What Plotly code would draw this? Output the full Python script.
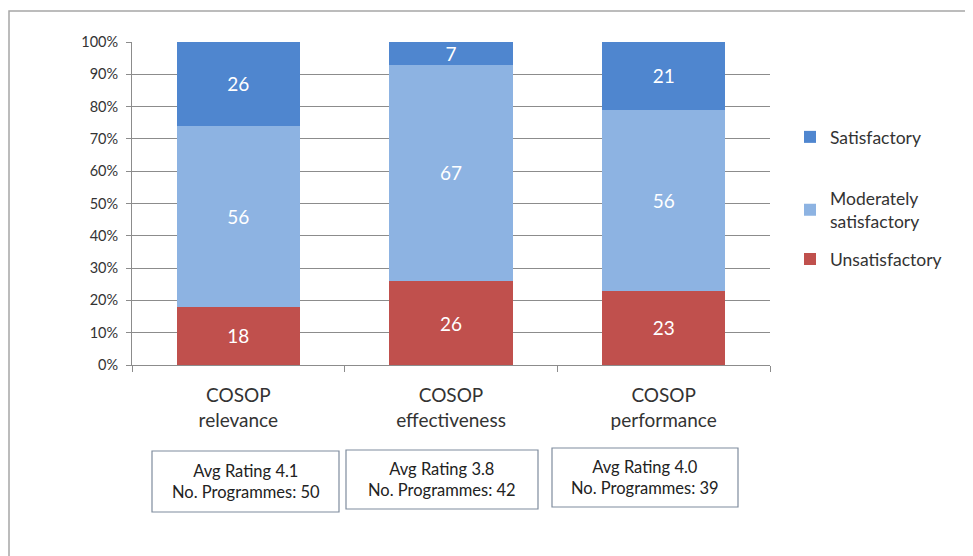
import plotly.graph_objects as go

categories = ["COSOP<br>relevance", "COSOP<br>effectiveness", "COSOP<br>performance"]
unsatisfactory = [18, 26, 23]
moderately = [56, 67, 56]
satisfactory = [26, 7, 21]
box_texts = [
    "Avg Rating 4.1<br>No. Programmes: 50",
    "Avg Rating 3.8<br>No. Programmes: 42",
    "Avg Rating 4.0<br>No. Programmes: 39",
]

FONT = "Lato"
OFF = 8                      # page body margin of the html page
W, H = 973 - OFF, 556 - OFF  # figure size so the page fits the window
L, R, T, B = 132, 770, 42, 365  # plot area in reference (window) pixels


def px(x):
    return (x - L) / (R - L)


def py(y):
    return (B - y) / (B - T)


fig = go.Figure()
series = [
    ("Unsatisfactory", unsatisfactory, "#C0504D", "legend", 2),
    ("Moderately<br>satisfactory", moderately, "#8DB3E2", "legend", 1),
    ("Satisfactory", satisfactory, "#4F86CF", "legend2", 1),
]
for name, vals, col, leg, rank in series:
    fig.add_trace(go.Bar(
        x=categories, y=vals, name=name, marker_color=col,
        marker_line_width=0, legendgroup=name, legend=leg, legendrank=rank,
        text=[str(v) for v in vals], textposition="inside",
        insidetextanchor="middle", textangle=0, constraintext="none",
        textfont=dict(family=FONT, size=19, color="white"),
    ))

legend_font = dict(family=FONT, size=17.5, color="#333333")
fig.update_layout(
    width=W, height=H, barmode="stack", bargap=0.42,
    margin=dict(l=L - OFF, r=W - (R - OFF), t=T - OFF, b=H - (B - OFF),
                autoexpand=False),
    plot_bgcolor="white", paper_bgcolor="white",
    font=dict(family=FONT, color="#333333"),
    legend=dict(
        x=px(790), y=py(229), xanchor="left", yanchor="middle",
        traceorder="grouped", tracegroupgap=12,
        font=legend_font, itemwidth=30,
    ),
    legend2=dict(
        x=px(790), y=py(137), xanchor="left", yanchor="middle",
        font=legend_font, itemwidth=30,
    ),
)
fig.update_yaxes(
    range=[0, 100], dtick=10, ticksuffix="%",
    showgrid=True, gridcolor="#8c8c8c", gridwidth=1,
    showline=True, linecolor="#8c8c8c",
    ticks="outside", ticklen=5, tickcolor="#8c8c8c",
    tickfont=dict(family=FONT, size=14.5, color="#333333"),
    ticklabelstandoff=5,
    zeroline=False, fixedrange=True, automargin=False,
)
fig.update_xaxes(
    showline=True, linecolor="#8c8c8c",
    ticks="outside", ticklen=6, tickcolor="#8c8c8c", tickson="boundaries",
    tickfont=dict(family=FONT, size=19, color="#333333"),
    ticklabelstandoff=13, automargin=False,
)

# outer frame
fig.add_shape(type="rect", xref="paper", yref="paper",
              x0=px(9), x1=px(990), y0=py(11), y1=py(600),
              line=dict(color="#a6a6a6", width=1.5), layer="below")

# rating boxes
boxes = [(152, 339, 451, 512), (346, 538, 450, 509), (552, 738, 448, 507)]
for (x0, x1, y0, y1), txt in zip(boxes, box_texts):
    fig.add_shape(type="rect", xref="paper", yref="paper",
                  x0=px(x0), x1=px(x1), y0=py(y0), y1=py(y1),
                  line=dict(color="#7f8c9d", width=1.2))
    fig.add_annotation(xref="paper", yref="paper",
                       x=px((x0 + x1) / 2), y=py((y0 + y1) / 2),
                       xanchor="center", yanchor="middle",
                       text=txt, showarrow=False, align="center",
                       font=dict(family=FONT, size=16.5, color="#222222"))

fig.write_html("out.html")
